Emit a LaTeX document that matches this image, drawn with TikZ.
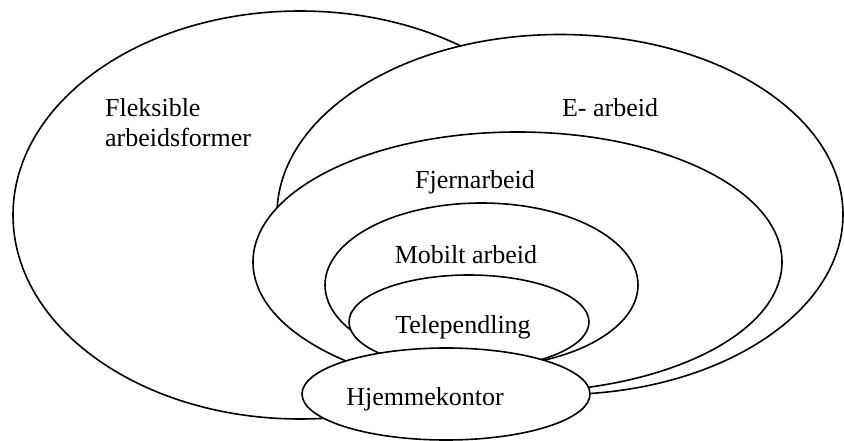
\documentclass[tikz,border=0pt]{standalone}
\usepackage{fontspec}
\setmainfont{Liberation Serif}
\usetikzlibrary{shapes.geometric}
\tikzset{
  ring/.style={draw, fill=white, line width=1.6pt, ellipse, inner sep=0pt, outer sep=0pt},
  lbl/.style={font=\fontsize{26}{30}\selectfont, inner sep=0pt}
}
\begin{document}
\begin{tikzpicture}[x=1pt,y=-1pt]
\useasboundingbox (0,0) rectangle (844,441);
\node[ring, minimum width=574pt, minimum height=408pt] (flex) at (300,215) {};
\node[ring, minimum width=566pt, minimum height=360pt] (earb) at (560,214.5) {};
\node[ring, minimum width=529pt, minimum height=260pt] (fjern) at (517.5,262) {};
\node[ring, minimum width=313pt, minimum height=164pt] (mob) at (481.5,285) {};
\node[ring, minimum width=240pt, minimum height=94pt] (tele) at (469,322) {};
\node[ring, minimum width=288pt, minimum height=92pt] (hjem) at (446,394) {};
\node[lbl, anchor=base west, align=left] (tflex) at (105,147) {Fleksible\\arbeidsformer};
\node[lbl, anchor=base] (tearb) at (610,117) {E- arbeid};
\node[lbl, anchor=base] (tfjern) at (475,189) {Fjernarbeid};
\node[lbl, anchor=base] (tmob) at (466,263) {Mobilt arbeid};
\node[lbl, anchor=base] (ttele) at (463,333) {Telependling};
\node[lbl, anchor=base] (thjem) at (425,405) {Hjemmekontor};
\end{tikzpicture}
\end{document}
